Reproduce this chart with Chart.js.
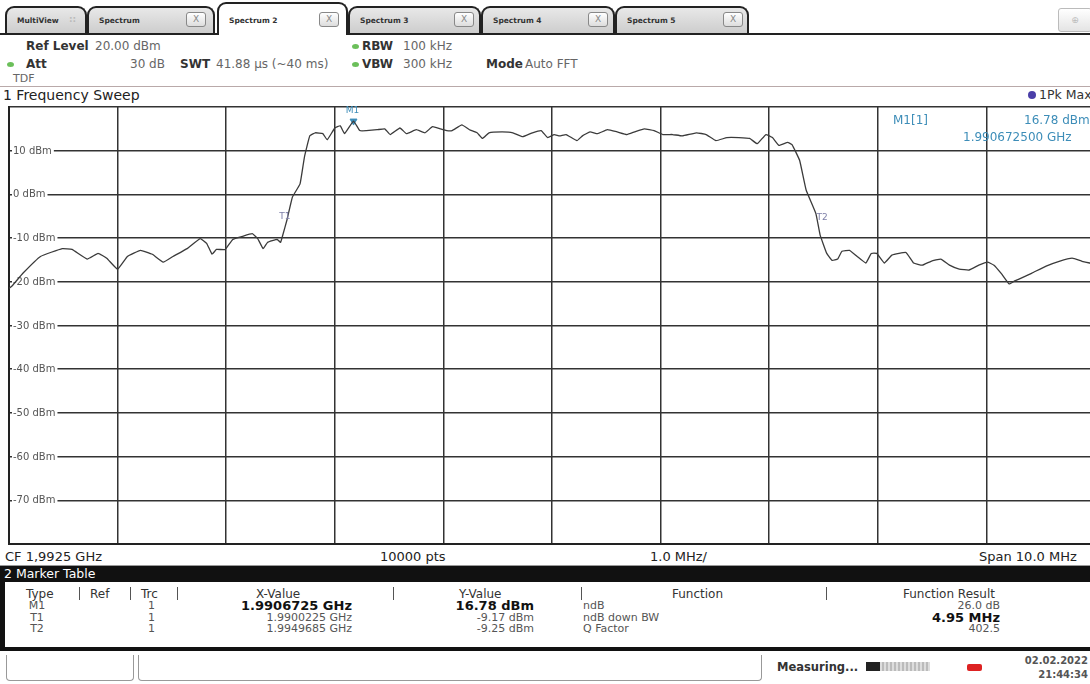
<!DOCTYPE html>
<html>
<head>
<meta charset="utf-8">
<script src="https://cdn.jsdelivr.net/npm/chart.js@4.4.1/dist/chart.umd.min.js"></script>
<style>
  body { margin: 0; width: 1090px; height: 684px; overflow: hidden; background: #fff; position: relative;
         font-family: 'DejaVu Sans', Verdana, sans-serif; color: #222; }
  .a { position: absolute; white-space: nowrap; line-height: 1; }
  .tab { position: absolute; top: 6px; height: 27px; border: 2px solid #222; border-bottom: none;
         border-radius: 9px 9px 0 0; background: linear-gradient(#e8e8e8, #cdcdcd); box-sizing: border-box; }
  .tab.on { top: 2px; height: 33px; background: #fff; z-index: 2; }
  .tab span { position: absolute; left: 10px; top: 8px; font-size: 7.5px; font-weight: bold; color: #333; }
  .tab .x { position: absolute; top: 4px; width: 18px; height: 13px; border: 1px solid #888; border-radius: 3px;
            background: linear-gradient(#fff, #ddd); font-size: 9px; color: #888; text-align: center; line-height: 13px; }
  .b { font-weight: bold; color: #333; font-size: 12px; }
  .g { color: #666; font-size: 12px; }
  .dot { position: absolute; width: 7px; height: 5px; border-radius: 50%; background: #6bbf5a; }
  .blue { color: #3d8db8; }
  .th, .td { position: absolute; white-space: nowrap; line-height: 1; }
  .th { font-size: 12px; color: #333; }
  .sep { position: absolute; top: 587px; width: 1px; height: 13px; background: #555; }
  .td { font-size: 11px; color: #555; }
  .td.bold { font-size: 13px; font-weight: bold; color: #111; }
</style>
</head>
<body>

<!-- tab bar -->
<div class="a" style="left:0;top:33px;width:1090px;height:2px;background:#222"></div>
<div class="tab" style="left:5px;width:82px"><span>MultiView</span><span style="left:62px;color:#bbb;font-size:9px;top:6px">::</span></div>
<div class="tab" style="left:87px;width:128px"><span>Spectrum</span><div class="x" style="left:97px">X</div></div>
<div class="tab on" style="left:217px;width:131px"><span style="top:12px">Spectrum 2</span><div class="x" style="left:100px;top:8px">X</div></div>
<div class="tab" style="left:348px;width:133px"><span>Spectrum 3</span><div class="x" style="left:104px">X</div></div>
<div class="tab" style="left:481px;width:134px"><span>Spectrum 4</span><div class="x" style="left:105px">X</div></div>
<div class="tab" style="left:615px;width:134px"><span>Spectrum 5</span><div class="x" style="left:106px">X</div></div>
<div class="a" style="left:1058px;top:8px;width:34px;height:24px;border:1px solid #bbb;border-radius:3px;background:linear-gradient(#fff,#e4e4e4);box-sizing:border-box;color:#bbb;font-size:9px;text-align:center;line-height:22px">&#8853;</div>

<!-- settings header -->
<div class="a b" style="left:26px;top:40px">Ref Level</div>
<div class="a g" style="left:95px;top:40px">20.00 dBm</div>
<div class="dot" style="left:7px;top:62px"></div>
<div class="a b" style="left:26px;top:58px">Att</div>
<div class="a g" style="left:130px;top:58px">30 dB</div>
<div class="a b" style="left:180px;top:58px">SWT</div>
<div class="a g" style="left:216px;top:58px">41.88 µs (~40 ms)</div>
<div class="a g" style="left:13px;top:73px;font-size:11px">TDF</div>
<div class="dot" style="left:352px;top:44px"></div>
<div class="a b" style="left:362px;top:40px">RBW</div>
<div class="a g" style="left:403px;top:40px">100 kHz</div>
<div class="dot" style="left:352px;top:62px"></div>
<div class="a b" style="left:362px;top:58px">VBW</div>
<div class="a g" style="left:403px;top:58px">300 kHz</div>
<div class="a b" style="left:486px;top:58px">Mode</div>
<div class="a g" style="left:525px;top:58px">Auto FFT</div>

<!-- window title -->
<div class="a" style="left:0;top:86px;width:1090px;height:1px;background:#b9a9a9"></div>
<div class="a" style="left:3px;top:88px;font-size:14px;color:#222">1 Frequency Sweep</div>
<div class="a" style="left:1028px;top:91px;width:8px;height:8px;border-radius:50%;background:#4b3fa8"></div>
<div class="a" style="left:1039px;top:89px;font-size:12.5px;color:#333">1Pk Max</div>

<!-- chart -->
<div class="a" style="left:0;top:102px;width:1100px;height:447px">
  <canvas id="specChart" width="1100" height="447"></canvas>
</div>

<!-- marker readout -->
<div class="a blue" style="left:893px;top:114px;font-size:12px">M1[1]</div>
<div class="a blue" style="left:1024px;top:114px;font-size:12px">16.78 dBm</div>
<div class="a blue" style="left:963px;top:131px;font-size:12px">1.990672500 GHz</div>

<!-- footer of diagram -->
<div class="a" style="left:5px;top:550px;font-size:13px">CF 1,9925 GHz</div>
<div class="a" style="left:380px;top:550px;font-size:13px">10000 pts</div>
<div class="a" style="left:650px;top:550px;font-size:13px">1.0 MHz/</div>
<div class="a" style="left:979px;top:550px;font-size:13px">Span 10.0 MHz</div>
<div class="a" style="left:0;top:565px;width:1090px;height:1px;background:#999"></div>

<!-- marker table -->
<div class="a" style="left:0;top:566px;width:1090px;height:16px;background:#111"></div>
<div class="a" style="left:4px;top:568px;font-size:12.5px;color:#fff">2 Marker Table</div>
<div class="a" style="left:0;top:582px;width:1094px;height:69px;border-left:5px solid #111;border-bottom:4px solid #111;box-sizing:border-box"></div>

<div class="th" style="left:26px;top:588px">Type</div>
<div class="sep" style="left:79px"></div>
<div class="th" style="left:90px;top:588px">Ref</div>
<div class="sep" style="left:130px"></div>
<div class="th" style="left:141px;top:588px">Trc</div>
<div class="sep" style="left:177px"></div>
<div class="th" style="left:256px;top:588px">X-Value</div>
<div class="sep" style="left:393px"></div>
<div class="th" style="left:459px;top:588px">Y-Value</div>
<div class="sep" style="left:581px"></div>
<div class="th" style="left:672px;top:588px">Function</div>
<div class="sep" style="left:826px"></div>
<div class="th" style="left:903px;top:588px">Function Result</div>

<div id="rows"></div>

<!-- status bar -->
<div class="a" style="left:6px;top:655px;width:128px;height:26px;border:1px solid #999;border-top:none;border-radius:0 0 4px 4px;box-sizing:border-box"></div>
<div class="a" style="left:138px;top:655px;width:624px;height:26px;border:1px solid #999;border-top:none;border-radius:0 0 4px 4px;box-sizing:border-box"></div>
<div class="a" style="left:777px;top:662px;font-size:11.5px;color:#333;font-weight:bold">Measuring...</div>
<div class="a" style="left:866px;top:662px;width:64px;height:9px;background:repeating-linear-gradient(90deg,#bbb 0 2px,#ddd 2px 4px)"></div>
<div class="a" style="left:866px;top:662px;width:14px;height:9px;background:#222"></div>
<div class="a" style="left:967px;top:664px;width:15px;height:7px;background:#d22;border-radius:2px"></div>
<div class="a" style="right:2px;top:656px;font-size:10px;color:#555;font-weight:bold">02.02.2022</div>
<div class="a" style="right:2px;top:670px;font-size:10px;color:#555;font-weight:bold">21:44:34</div>

<script>
// sweep setup
const centerMHz = 1992.5;
const spanMHz = 10;
const refLevel = 20;
const dbPerDiv = 10;

// trace (MHz, dBm)
const freqMHz = [
  1987.50, 1987.53, 1987.63, 1987.79, 1987.99, 1988.08, 1988.22, 1988.32, 1988.40, 1988.50,
  1988.59, 1988.71, 1988.82, 1988.92, 1989.01, 1989.14, 1989.26, 1989.32, 1989.37, 1989.41,
  1989.49, 1989.56, 1989.65, 1989.74, 1989.79, 1989.84, 1989.88, 1989.97, 1990.00, 1990.0225,
  1990.06, 1990.11, 1990.18, 1990.22, 1990.27, 1990.32, 1990.39, 1990.43, 1990.50, 1990.55,
  1990.59, 1990.6725, 1990.73, 1990.79, 1990.89, 1990.96, 1991.01, 1991.10, 1991.16, 1991.25,
  1991.33, 1991.40, 1991.47, 1991.53, 1991.58, 1991.67, 1991.74, 1991.81, 1991.86, 1991.92,
  1992.04, 1992.14, 1992.23, 1992.32, 1992.40, 1992.46, 1992.52, 1992.57, 1992.63, 1992.73,
  1992.78, 1992.85, 1992.92, 1993.01, 1993.10, 1993.19, 1993.26, 1993.35, 1993.44, 1993.52,
  1993.61, 1993.70, 1993.83, 1993.92, 1994.01, 1994.11, 1994.22, 1994.32, 1994.39, 1994.47,
  1994.53, 1994.59, 1994.67, 1994.71, 1994.78, 1994.84, 1994.93, 1994.9685, 1995.03, 1995.08,
  1995.13, 1995.17, 1995.24, 1995.31, 1995.39, 1995.44, 1995.49, 1995.56, 1995.63, 1995.76,
  1995.83, 1995.91, 1995.99, 1996.08, 1996.16, 1996.25, 1996.34, 1996.43, 1996.51, 1996.57,
  1996.64, 1996.71, 1996.76, 1996.80, 1996.92, 1997.05, 1997.17, 1997.29, 1997.38, 1997.45,
  1997.50
];
const levelDbm = [
  -21.5, -20.9, -18.0, -14.2, -12.4, -12.6, -14.8, -13.5, -14.6, -17.1,
  -14.2, -12.8, -13.7, -15.5, -14.2, -12.4, -10.1, -11.2, -13.7, -12.6,
  -12.6, -10.3, -9.6, -9.0, -10.1, -12.4, -11.0, -10.3, -11.0, -9.17,
  -5.8, -0.6, 2.4, 8.5, 13.4, 14.1, 13.9, 12.5, 15.2, 15.7,
  13.9, 16.78, 14.6, 14.6, 14.8, 15.0, 13.7, 15.2, 13.9, 14.8,
  14.1, 15.5, 15.0, 14.6, 14.6, 15.9, 14.8, 14.1, 12.8, 14.1,
  14.3, 14.1, 13.2, 14.1, 14.6, 13.0, 13.7, 13.4, 13.7, 12.3,
  13.4, 14.3, 13.9, 14.8, 14.3, 13.7, 14.3, 15.0, 14.6, 13.7,
  13.7, 13.4, 14.1, 13.7, 12.3, 13.0, 13.0, 12.8, 11.6, 13.7,
  13.0, 11.2, 11.9, 11.4, 7.8, 1.0, -4.4, -9.25, -13.5, -15.1,
  -14.8, -13.0, -12.8, -14.2, -15.7, -13.5, -13.5, -15.7, -13.9, -13.3,
  -15.7, -16.2, -15.3, -14.8, -16.2, -17.1, -17.3, -16.2, -15.5, -16.2,
  -18.2, -20.5, -19.8, -19.4, -18.0, -16.4, -15.3, -14.6, -15.3, -15.7,
  -15.9
];

// marker table
const markerType = ['M1', 'T1', 'T2'];
const markerTrc = ['1', '1', '1'];
const markerXGHz = [1.9906725, 1.9900225, 1.9949685];
const markerYDbm = [16.78, -9.17, -9.25];
const markerXText = ['1.9906725 GHz', '1.9900225 GHz', '1.9949685 GHz'];
const markerYText = ['16.78 dBm', '-9.17 dBm', '-9.25 dBm'];
const functionName = ['ndB', 'ndB down BW', 'Q Factor'];
const functionResult = ['26.0 dB', '4.95 MHz', '402.5'];

// table rows
const rowsEl = document.getElementById('rows');
const rowTop = [600, 612, 623];
markerType.forEach((t, i) => {
  const big = i === 0;
  const bigResult = i === 1;
  rowsEl.insertAdjacentHTML('beforeend',
    `<div class="td" style="left:27px;top:${rowTop[i]}px;width:20px;text-align:center">${t}</div>` +
    `<div class="td" style="left:148px;top:${rowTop[i]}px">${markerTrc[i]}</div>` +
    `<div class="td${big ? ' bold' : ''}" style="right:${1090 - 352}px;top:${rowTop[i] - (big ? 1 : 0)}px">${markerXText[i]}</div>` +
    `<div class="td${big ? ' bold' : ''}" style="right:${1090 - 534}px;top:${rowTop[i] - (big ? 1 : 0)}px">${markerYText[i]}</div>` +
    `<div class="td" style="left:583px;top:${rowTop[i]}px">${functionName[i]}</div>` +
    `<div class="td${bigResult ? ' bold' : ''}" style="right:${1090 - 1000}px;top:${rowTop[i] - (bigResult ? 1 : 0)}px">${functionResult[i]}</div>`);
});

// level labels sit inside the grid, left aligned, under the trace
const levelLabels = {
  id: 'levelLabels',
  beforeDatasetsDraw(chart) {
    const { ctx, scales, chartArea } = chart;
    ctx.save();
    ctx.font = '10px "DejaVu Sans"';
    ctx.textBaseline = 'middle';
    scales.y.ticks.forEach((t) => {
      if (t.value >= refLevel || t.value <= refLevel - 10 * dbPerDiv) return;
      const y = scales.y.getPixelForValue(t.value);
      const txt = t.value + ' dBm';
      const w = ctx.measureText(txt).width;
      const x = chartArea.left + 4;
      ctx.fillStyle = '#fff';
      ctx.fillRect(x - 1, y - 6, w + 3, 12);
      ctx.fillStyle = '#555';
      ctx.fillText(txt, x, y + 0.5);
    });
    ctx.restore();
  }
};

// marker labels drawn on top of the trace
const markerLabels = {
  id: 'markerLabels',
  afterDatasetsDraw(chart) {
    const { ctx, scales } = chart;
    ctx.save();
    ctx.font = '9px "DejaVu Sans"';
    ctx.textAlign = 'center';
    markerType.forEach((t, i) => {
      const x = scales.x.getPixelForValue(markerXGHz[i] * 1000);
      const y = scales.y.getPixelForValue(markerYDbm[i]);
      if (i === 0) {
        ctx.fillStyle = '#3d8db8';
        ctx.fillText(t, x - 1, y - 8);
      } else {
        ctx.fillStyle = '#7d7fa8';
        ctx.fillText(t, x + 2, y - 15);
      }
    });
    ctx.restore();
  }
};

const ctx = document.getElementById('specChart').getContext('2d');
const specChart = new Chart(ctx, {
  type: 'line',
  data: {
    datasets: [{
      label: 'Trace 1',
      data: freqMHz.map((f, i) => ({ x: f, y: levelDbm[i] })),
      borderColor: '#3b3b3b',
      borderWidth: 1.3,
      pointRadius: 0,
      tension: 0.1
    }, {
      label: 'Markers',
      type: 'scatter',
      data: markerXGHz.map((g, i) => ({ x: g * 1000, y: markerYDbm[i] })),
      pointStyle: 'triangle',
      rotation: 180,
      pointRadius: [4, 0, 0],
      backgroundColor: '#3d8db8',
      borderColor: '#3d8db8'
    }]
  },
  options: {
    responsive: false,
    animation: false,
    layout: { padding: { left: 9, right: 1, top: 2, bottom: 3 } },
    plugins: { legend: { display: false }, tooltip: { enabled: false } },
    scales: {
      x: {
        type: 'linear',
        min: centerMHz - spanMHz / 2,
        max: centerMHz + spanMHz / 2,
        ticks: { display: false, stepSize: spanMHz / 10 },
        grid: { color: '#333', lineWidth: 1.5, drawTicks: false },
        border: { display: true, color: '#222', width: 2 },
        afterFit: (scale) => { scale.height = 0; }
      },
      y: {
        min: refLevel - 10 * dbPerDiv,
        max: refLevel,
        ticks: { display: false, stepSize: dbPerDiv },
        grid: { color: '#333', lineWidth: 1.5, drawTicks: false },
        border: { display: true, color: '#222', width: 2 },
        afterFit: (scale) => { scale.width = 0; }
      }
    }
  },
  plugins: [levelLabels, markerLabels]
});
</script>
</body>
</html>
